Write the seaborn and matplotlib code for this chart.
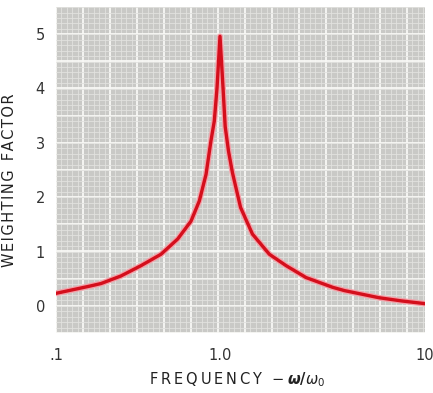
import numpy as np
import pandas as pd
import seaborn as sns
import matplotlib.pyplot as plt
from matplotlib.ticker import MultipleLocator, FixedLocator

# values (frequency ratio w/w0 vs weighting factor)
freq_ratio = [0.10, 0.159, 0.188, 0.249, 0.33, 0.437, 0.552, 0.666, 0.748, 0.822, 0.881,
              0.923, 0.959, 1.00, 1.035, 1.06, 1.10, 1.15, 1.26, 1.44, 1.74, 2.10, 2.63,
              3.55, 4.05, 5.95, 7.7, 10.0]
weighting = [0.23, 0.36, 0.41, 0.55, 0.74, 0.95, 1.23, 1.56, 1.93, 2.42, 3.04,
             3.40, 4.01, 4.96, 4.00, 3.30, 2.85, 2.45, 1.81, 1.32, 0.95, 0.74, 0.52,
             0.34, 0.28, 0.15, 0.09, 0.04]

x_ticks = [0.1, 1.0, 10]
x_tick_labels = [".1", "1.0", "10"]
y_ticks = [0, 1, 2, 3, 4, 5]

df = pd.DataFrame({"freq": freq_ratio, "weight": weighting})

sns.set_theme(style="white")
plt.rcParams["font.family"] = ["DejaVu Sans"]
plt.rcParams["mathtext.fontset"] = "dejavusans"


def spaced(text, gap):
    # poor man's letter spacing
    return gap.join(text)


W, H = 433, 393
fig = plt.figure(figsize=(W / 100, H / 100), dpi=100)
rect = [56 / W, 1 - 333 / H, (425 - 56) / W, (333 - 7) / H]

# graph paper background
bg = fig.add_axes(rect, zorder=0)
bg.set_facecolor("#c9c9c6")
bg.set_xlim(0, 369)
bg.set_ylim(0, 326)
bg.xaxis.set_major_locator(MultipleLocator(27))
bg.yaxis.set_major_locator(MultipleLocator(27.17))
bg.xaxis.set_minor_locator(MultipleLocator(5.4))
bg.yaxis.set_minor_locator(MultipleLocator(5.43))
bg.grid(which="minor", color="#e2e2df", linewidth=0.6)
bg.grid(which="major", color="#f8f8f5", linewidth=1.3)
bg.tick_params(which="both", length=0, labelbottom=False, labelleft=False)
for s in bg.spines.values():
    s.set_visible(False)

ax = fig.add_axes(rect, zorder=1)
ax.patch.set_alpha(0)

# decade 1-10 is drawn wider than 0.1-1 on the original paper
def fwd(x):
    x = np.asarray(x, dtype=float)
    lg = np.log10(np.clip(x, 1e-12, None))
    return np.where(lg < 0, 0.8 * lg, lg)

def inv(t):
    t = np.asarray(t, dtype=float)
    return np.where(t < 0, 10 ** (t / 0.8), 10 ** t)

ax.set_xscale("function", functions=(fwd, inv))

sns.lineplot(data=df, x="freq", y="weight", ax=ax, color="#f4a0a8",
             linewidth=4.2, sort=False, solid_joinstyle="round", solid_capstyle="round")
sns.lineplot(data=df, x="freq", y="weight", ax=ax, color="#d40f1c",
             linewidth=2.4, sort=False, solid_joinstyle="round", solid_capstyle="round")

ax.set_xlim(0.1, 10)
ax.set_ylim(-0.5, 5.5)
ax.xaxis.set_major_locator(FixedLocator(x_ticks))
ax.xaxis.set_minor_locator(FixedLocator([]))
ax.set_xticklabels(x_tick_labels)
ax.set_yticks(y_ticks)
ax.tick_params(length=0, labelsize=10.5, labelcolor="#333333")
ax.tick_params(axis="x", pad=11)
ax.tick_params(axis="y", pad=8)
for s in ax.spines.values():
    s.set_visible(False)

ax.set_ylabel(spaced("WEIGHTING", "\u200a") + "  " + spaced("FACTOR", "\u200a"),
              fontsize=10.5, color="#222222")
ax.yaxis.set_label_coords(-0.105, 0.47)
ax.set_xlabel(spaced("FREQUENCY", "\u2009") + r"  $-\;\boldsymbol{\omega/\omega_{0}}$",
              fontsize=10.5, color="#222222")
ax.xaxis.set_label_coords(0.49, -0.115)

fig.savefig("out.png", dpi=100, facecolor="white")
